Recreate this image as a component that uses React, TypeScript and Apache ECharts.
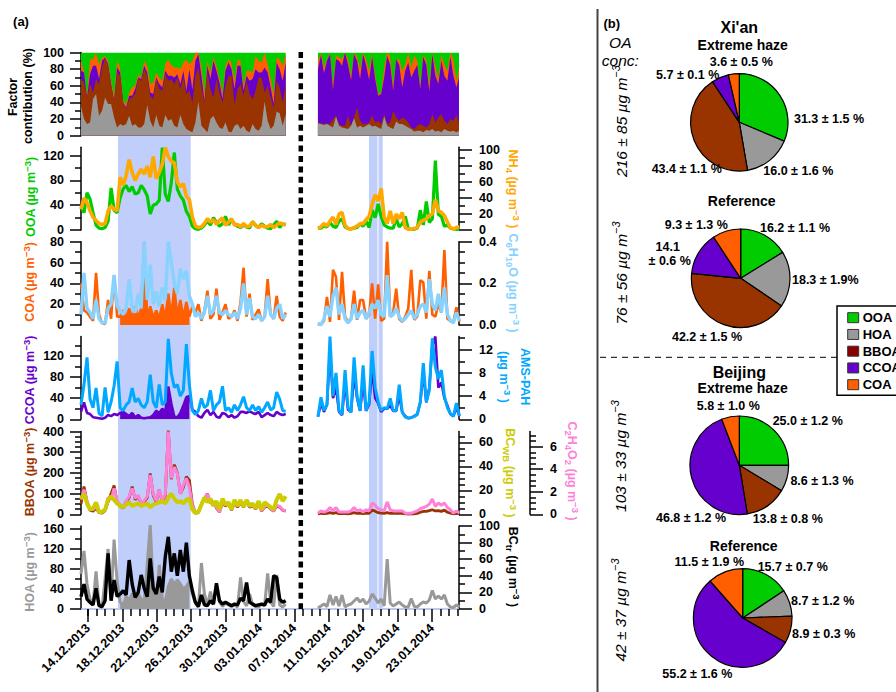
import React, { useEffect, useRef } from 'react';
import * as echarts from 'echarts';

// time axis: days counted from 14.12.2013, one reading every 0.35 day
const DAY_MIN = -0.81;
const DAY_MAX = 43.14;
const DAY_STEP = 0.35;
const RIGHT_START = 26.74;
const GAP_DAY = 24.8;
const dateTicks = [0, 4, 8, 12, 16, 20, 24, 28, 32, 36, 40];
const dateLabels = ['14.12.2013', '18.12.2013', '22.12.2013', '26.12.2013', '30.12.2013', '03.01.2014', '07.01.2014', '11.01.2014', '15.01.2014', '19.01.2014', '23.01.2014'];
const dayTicks = [0, 1, 2, 3, 5, 6, 7, 9, 10, 11, 13, 14, 15, 17, 18, 19, 21, 22, 23, 25, 26, 27, 29, 30, 31, 33, 34, 35, 37, 38, 39, 41, 42, 43];
const hazeWindows = [[3.49, 11.94], [32.67, 33.66], [33.78, 34.27]];

// factor contribution, upper edge of each layer (%)
const hoaTopL = [
  35, 20, 14, 16, 44, 50, 24, 30, 46, 38,
  38, 22, 10, 14, 12, 14, 24, 12, 14, 10,
  10, 14, 37, 18, 10, 25, 12, 10, 25, 18,
  20, 12, 10, 25, 14, 8, 6, 4, 16, 41,
  12, 8, 4, 20, 24, 16, 10, 8, 16, 5,
  4, 12, 14, 8, 12, 6, 4, 14, 8, 6,
  12, 41, 18, 8, 12, 29, 27, 12, 26];
const bboaTopL = [
  68, 64, 46, 62, 52, 68, 62, 82, 93, 84,
  60, 42, 76, 72, 40, 32, 44, 46, 50, 68,
  66, 80, 72, 48, 44, 68, 56, 54, 74, 66,
  68, 62, 70, 56, 70, 50, 54, 40, 72, 82,
  58, 40, 76, 56, 46, 68, 52, 40, 60, 72,
  72, 38, 56, 62, 48, 66, 50, 44, 54, 70,
  70, 52, 60, 46, 34, 66, 58, 40, 62];
const ccoaTopL = [
  78, 76, 46, 74, 84, 84, 68, 90, 94, 86,
  62, 42, 82, 76, 40, 34, 48, 48, 56, 70,
  68, 84, 76, 52, 50, 70, 62, 58, 78, 72,
  72, 70, 74, 62, 78, 54, 80, 55, 90, 98,
  72, 42, 84, 68, 90, 78, 64, 44, 78, 88,
  80, 56, 84, 84, 54, 72, 66, 68, 80, 76,
  76, 82, 76, 58, 38, 88, 80, 66, 88];
const coaTopL = [
  90, 78, 47, 92, 92, 100, 86, 93, 96, 90,
  66, 47, 90, 82, 42, 38, 52, 58, 60, 74,
  70, 90, 84, 62, 64, 76, 70, 66, 86, 92,
  85, 82, 82, 80, 88, 92, 86, 90, 100, 100,
  84, 50, 90, 76, 94, 84, 70, 50, 84, 92,
  88, 66, 92, 90, 60, 78, 78, 76, 96, 90,
  88, 100, 86, 70, 50, 94, 92, 84, 98];
const ooaTopL = [
  100, 100, 100, 100, 100, 100, 100, 100, 100, 100,
  100, 100, 100, 100, 100, 100, 100, 100, 100, 100,
  100, 100, 100, 100, 100, 100, 100, 100, 100, 100,
  100, 100, 100, 100, 100, 100, 100, 100, 100, 100,
  100, 100, 100, 100, 100, 100, 100, 100, 100, 100,
  100, 100, 100, 100, 100, 100, 100, 100, 100, 100,
  100, 100, 100, 100, 100, 100, 100, 100, 100];
const hoaTopR = [
  15, 14, 13, 14, 12, 10, 23, 12, 10, 9,
  8, 12, 21, 10, 12, 10, 12, 14, 11, 12,
  10, 8, 23, 12, 10, 8, 17, 14, 14, 12,
  10, 8, 5, 6, 6, 4, 7, 6, 8, 5,
  6, 4, 8, 6, 5, 6, 4, 6];
const bboaTopR = [
  16, 15, 14, 15, 14, 20, 24, 14, 12, 12,
  24, 12, 22, 34, 18, 14, 14, 16, 25, 16,
  18, 14, 26, 14, 16, 30, 22, 18, 22, 20,
  16, 10, 8, 12, 14, 12, 10, 14, 26, 16,
  22, 26, 18, 14, 20, 18, 25, 14];
const ccoaTopR = [
  80, 97, 75, 90, 98, 55, 92, 90, 84, 100,
  85, 67, 98, 90, 68, 98, 85, 67, 95, 68,
  48, 50, 70, 96, 85, 54, 92, 85, 58, 78,
  88, 70, 78, 85, 56, 95, 85, 53, 98, 72,
  62, 90, 72, 66, 95, 72, 58, 72];
const coaTopR = [
  90, 100, 82, 92, 100, 62, 96, 94, 92, 100,
  92, 72, 100, 95, 80, 100, 92, 78, 98, 74,
  50, 52, 82, 100, 96, 60, 92, 92, 78, 86,
  100, 82, 96, 90, 60, 97, 92, 62, 100, 84,
  68, 97, 86, 78, 100, 92, 66, 85];
const ooaTopR = [
  100, 100, 100, 100, 100, 100, 100, 100, 100, 100,
  100, 100, 100, 100, 100, 100, 100, 100, 100, 100,
  100, 100, 100, 100, 100, 100, 100, 100, 100, 100,
  100, 100, 100, 100, 100, 100, 100, 100, 100, 100,
  100, 100, 100, 100, 100, 100, 100, 100];

// concentrations (ug m-3)
const ooaL = [
  38, 28, 60, 50, 28, 8, 3, 2, 4, 14,
  68, 32, 28, 52, 66, 72, 62, 70, 58, 60,
  72, 65, 55, 26, 40, 42, 48, 133, 58, 46,
  76, 125, 66, 55, 48, 30, 22, 6, 2, 1,
  3, 8, 14, 8, 20, 12, 6, 10, 22, 8,
  16, 10, 6, 4, 8, 5, 3, 14, 7, 4,
  10, 6, 3, 2, 8, 14, 4, 10, 8];
const ooaR = [
  3, 3, 7, 5, 12, 6, 4, 14, 18, 5,
  2, 2, 3, 4, 10, 6, 14, 4, 32, 20,
  42, 22, 8, 5, 3, 3, 18, 5, 10, 22,
  2, 1, 1, 3, 32, 8, 46, 12, 18, 112,
  25, 22, 6, 8, 3, 2, 1, 2];
const nh4L = [
  26, 40, 34, 24, 16, 12, 8, 7, 8, 24,
  30, 26, 24, 66, 56, 68, 88, 72, 62, 70,
  76, 70, 80, 66, 92, 64, 72, 82, 103, 92,
  86, 84, 60, 54, 58, 42, 38, 16, 5, 3,
  4, 8, 14, 10, 13, 7, 12, 15, 6, 10,
  14, 6, 7, 4, 8, 4, 5, 10, 6, 3,
  6, 4, 4, 7, 3, 6, 9, 7, 7];
const nh4R = [
  2, 4, 8, 5, 11, 16, 7, 20, 22, 6,
  2, 1, 3, 5, 8, 8, 13, 17, 32, 44,
  36, 52, 16, 8, 24, 8, 20, 14, 22, 3,
  1, 1, 2, 3, 10, 12, 14, 18, 20, 38,
  24, 22, 18, 10, 3, 1, 3, 4];
const coaL = [
  40, 14, 12, 8, 4, 50, 10, 2, 1, 24,
  6, 48, 8, 8, 14, 7, 16, 6, 18, 7,
  16, 80, 6, 18, 7, 14, 6, 20, 6, 30,
  8, 36, 8, 24, 7, 22, 8, 18, 12, 20,
  4, 14, 33, 6, 10, 35, 5, 12, 20, 6,
  8, 14, 4, 22, 55, 8, 30, 5, 10, 15,
  4, 8, 44, 10, 6, 28, 8, 4, 12];
const coaR = [
  1, 0, 4, 27, 3, 53, 46, 5, 51, 8,
  3, 6, 33, 5, 24, 24, 6, 10, 40, 6,
  39, 4, 6, 80, 8, 12, 35, 6, 3, 8,
  16, 53, 5, 8, 43, 41, 6, 52, 10, 8,
  20, 12, 72, 6, 4, 3, 17, 3];
const c6h10oL = [
  0.05, 0.25, 0.08, 0.06, 0.03, 0.12, 0.03, 0.01, 0.01, 0.08,
  0.10, 0.24, 0.09, 0.07, 0.05, 0.08, 0.22, 0.08, 0.06, 0.15,
  0.08, 0.40, 0.12, 0.29, 0.10, 0.16, 0.09, 0.18, 0.12, 0.40,
  0.30, 0.20, 0.15, 0.27, 0.22, 0.26, 0.14, 0.10, 0.04, 0.06,
  0.03, 0.06, 0.14, 0.05, 0.07, 0.14, 0.06, 0.05, 0.07, 0.05,
  0.04, 0.06, 0.03, 0.08, 0.20, 0.05, 0.13, 0.04, 0.03, 0.05,
  0.02, 0.04, 0.14, 0.05, 0.03, 0.08, 0.10, 0.03, 0.05];
const c6h10oR = [
  0.01, 0.0, 0.03, 0.09, 0.04, 0.14, 0.18, 0.05, 0.10, 0.03,
  0.01, 0.03, 0.10, 0.03, 0.06, 0.07, 0.03, 0.06, 0.10, 0.08,
  0.12, 0.05, 0.04, 0.24, 0.04, 0.05, 0.08, 0.04, 0.02, 0.03,
  0.05, 0.07, 0.03, 0.05, 0.09, 0.10, 0.06, 0.22, 0.10, 0.07,
  0.15, 0.06, 0.18, 0.05, 0.02, 0.01, 0.06, 0.02];
const ccoaL = [
  14, 32, 12, 10, 4, 3, 2, 1, 3, 8,
  6, 10, 8, 12, 14, 10, 6, 12, 4, 8,
  3, 2, 3, 4, 8, 16, 12, 20, 14, 62,
  30, 5, 4, 12, 26, 42, 44, 18, 14, 6,
  3, 12, 18, 8, 14, 5, 3, 12, 10, 4,
  8, 3, 6, 14, 14, 12, 15, 12, 10, 14,
  4, 8, 12, 8, 6, 14, 10, 8, 10];
const ccoaR = [
  6, 30, 14, 28, 130, 40, 60, 14, 8, 70,
  18, 14, 85, 40, 16, 70, 16, 28, 95, 40,
  30, 14, 20, 20, 26, 16, 16, 45, 14, 6,
  2, 3, 6, 10, 32, 90, 32, 60, 140, 157,
  60, 70, 40, 26, 10, 6, 22, 6];
const pahL = [
  2.5, 6, 10.7, 3.5, 2, 5.4, 1, 0.6, 5.5, 1.2,
  3, 5.8, 10, 2, 1.5, 2.5, 3, 5.4, 3, 3.6,
  2.5, 2, 3, 7.7, 3, 2, 6, 2.5, 3, 13.9,
  8, 5.5, 6, 4, 5, 13, 6, 1.5, 0.8, 1.5,
  3.6, 2, 2.5, 5, 1.5, 2.5, 3, 5.7, 1.5, 2,
  1.2, 2.5, 1.5, 2.5, 3.9, 2, 1.5, 2.5, 1.5, 2.2,
  1.2, 2, 3, 1.6, 2, 4.7, 3.5, 1.5, 1.4];
const pahR = [
  0.4, 3.8, 1.5, 2.5, 14.3, 4, 8, 1.5, 0.8, 8.5,
  2, 1.2, 10.7, 4, 1.5, 9.3, 1.5, 3, 11.8, 5.5,
  3, 1.5, 2, 1.8, 3.6, 1.5, 1.5, 6, 1.2, 0.4,
  0.2, 0.3, 0.5, 0.8, 3, 9.7, 3, 5, 14, 9,
  7, 8.5, 4, 2, 1, 0.5, 2.8, 0.6];
const bboaL = [
  50, 134, 60, 20, 15, 30, 8, 6, 18, 60,
  100, 139, 60, 40, 30, 60, 80, 134, 70, 90,
  50, 60, 80, 198, 90, 60, 120, 60, 90, 404,
  170, 240, 200, 100, 130, 182, 165, 50, 6, 8,
  50, 75, 100, 55, 60, 30, 10, 55, 40, 50,
  20, 55, 35, 55, 35, 60, 35, 40, 25, 50,
  15, 35, 40, 25, 15, 40, 35, 20, 15];
const bboaR = [
  1, 5, 3, 5, 8, 5, 8, 3, 3, 3,
  2, 4, 8, 5, 6, 3, 6, 5, 20, 15,
  8, 6, 4, 8, 5, 4, 4, 4, 5, 2,
  1, 1, 2, 4, 10, 14, 14, 18, 22, 16,
  18, 14, 20, 10, 6, 2, 5, 2];
const c2h4o2L = [
  1.3, 2.2, 1.2, 0.5, 0.4, 0.7, 0.2, 0.2, 0.4, 1.5,
  1.3, 2.3, 1.2, 0.8, 0.7, 1.2, 1.6, 2.3, 1.4, 1.7,
  1.0, 1.2, 1.6, 3.5, 1.8, 1.2, 2.2, 1.2, 1.8, 7.35,
  3.2, 4.2, 3.6, 1.8, 2.6, 3.2, 2.4, 0.8, 0.2, 0.2,
  0.9, 1.4, 1.8, 1.0, 1.1, 0.6, 0.2, 1.1, 0.8, 1.0,
  0.4, 1.1, 0.7, 1.1, 0.7, 1.2, 0.7, 0.8, 0.5, 1.0,
  0.3, 0.7, 0.8, 0.5, 0.3, 0.8, 0.7, 0.4, 0.3];
const c2h4o2R = [
  0.1, 0.3, 0.2, 0.3, 0.6, 0.3, 0.6, 0.2, 0.2, 0.2,
  0.2, 0.3, 0.6, 0.3, 0.4, 0.2, 0.4, 0.3, 1.0, 0.8,
  0.5, 0.4, 0.3, 1.1, 0.4, 0.3, 0.3, 0.3, 0.3, 0.1,
  0.1, 0.1, 0.2, 0.3, 0.5, 0.6, 0.7, 0.9, 1.36, 0.7,
  1.0, 0.8, 1.0, 0.6, 0.4, 0.1, 0.3, 0.1];
const bcWbL = [
  13, 17, 9, 4, 5, 10, 2, 2, 4, 12,
  15, 12, 9, 7, 6, 8, 10, 7, 8, 9,
  7, 8, 9, 6, 8, 9, 10, 11, 9, 14,
  17, 13, 10, 11, 9, 12, 13, 4, 1, 2,
  8, 14, 10, 13, 7, 11, 4, 13, 8, 10,
  4, 12, 7, 12, 6, 12, 7, 9, 5, 11,
  4, 10, 8, 6, 4, 12, 17, 11, 15];
const hoaL = [
  70, 116, 50, 20, 10, 75, 8, 3, 60, 120,
  20, 139, 55, 14, 8, 25, 18, 30, 25, 30,
  20, 14, 90, 168, 40, 12, 88, 20, 15, 45,
  60, 50, 58, 50, 40, 45, 55, 30, 12, 4,
  92, 30, 8, 35, 10, 48, 14, 5, 12, 8,
  5, 8, 4, 63, 15, 6, 30, 8, 5, 4,
  10, 6, 71, 14, 5, 68, 8, 4, 10];
const hoaR = [
  2, 6, 10, 5, 28, 8, 25, 6, 28, 4,
  8, 10, 16, 22, 14, 20, 10, 16, 30, 22,
  12, 20, 6, 100, 12, 6, 10, 14, 8, 4,
  4, 21, 5, 4, 10, 14, 12, 18, 37, 20,
  26, 20, 28, 10, 4, 3, 8, 4];
const bcTrL = [
  15, 30, 12, 8, 5, 25, 4, 3, 10, 67,
  10, 35, 15, 18, 22, 17, 59, 30, 14, 20,
  41, 25, 15, 61, 25, 18, 39, 20, 63, 87,
  45, 67, 40, 71, 45, 80, 40, 22, 8, 3,
  17, 5, 4, 10, 6, 31, 10, 6, 8, 6,
  4, 6, 5, 13, 10, 32, 8, 6, 4, 5,
  6, 5, 12, 8, 40, 38, 12, 8, 10];

// pie charts, same slice order in all four
const factorNames = ['OOA', 'HOA', 'BBOA', 'CCOA', 'COA'];
const xianHaze = [31.3, 16.0, 43.4, 5.7, 3.6];
const xianRef = [16.2, 18.3, 42.2, 14.1, 9.3];
const beijingHaze = [25.0, 8.6, 13.8, 46.8, 5.8];
const beijingRef = [15.7, 8.7, 8.9, 55.2, 11.5];
const xianHazeText = ['31.3 ± 1.5 %', '16.0 ± 1.6 %', '43.4 ± 1.1 %', '5.7 ± 0.1 %', '3.6 ± 0.5 %'];
const xianRefText = ['16.2 ± 1.1 %', '18.3 ± 1.9%', '42.2 ± 1.5 %', '14.1', '± 0.6 %', '9.3 ± 1.3 %'];
const beijingHazeText = ['25.0 ± 1.2 %', '8.6 ± 1.3 %', '13.8 ± 0.8 %', '46.8 ± 1.2 %', '5.8 ± 1.0 %'];
const beijingRefText = ['15.7 ± 0.7 %', '8.7 ± 1.2 %', '8.9 ± 0.3 %', '55.2 ± 1.6 %', '11.5 ± 1.9 %'];

const FONT = '"Liberation Sans", Arial, sans-serif';
const GREEN = '#00CC00';
const GRAY = '#999999';
const BROWN = '#993300';
const PURPLE = '#6600CC';
const ORANGE = '#FF5F00';
const sliceColors = [GREEN, GRAY, BROWN, PURPLE, ORANGE];
const legendColors = [GREEN, GRAY, '#8B0000', PURPLE, ORANGE];

const toPoints = (left: number[], right: number[] = []) => [
  ...left.map((v, i) => [DAY_MIN + i * DAY_STEP, v]),
  [GAP_DAY, null],
  ...right.map((v, i) => [RIGHT_START + i * DAY_STEP, v]),
];
// only the readings inside the long haze episode, for the solid band under the traces
const duringHaze = (left: number[]) => toPoints(left).map(([x, y]: any) => [x, x >= hazeWindows[0][0] && x <= hazeWindows[0][1] ? y : null]);

// panels of (a), top to bottom
const panels = [
  { top: 52.5, height: 83.2 },
  { top: 147.3, height: 82.7 },
  { top: 241.7, height: 83.3 },
  { top: 336.5, height: 82.8 },
  { top: 431.5, height: 82.8 },
  { top: 526, height: 83 },
];

const grids: any[] = [{ left: 81, width: 378, top: 136, height: 473 }, ...panels.map((p) => ({ left: 81, width: 378, top: p.top, height: p.height }))];

const hiddenX = (gridIndex: number) => ({ type: 'value', gridIndex, min: DAY_MIN, max: DAY_MAX, show: false });
const xAxes: any[] = [0, 1, 2, 3, 4, 5].map(hiddenX);
xAxes.push({
  type: 'value', gridIndex: 6, min: DAY_MIN, max: DAY_MAX, position: 'bottom',
  axisLine: { show: true, onZero: false, lineStyle: { color: '#A9B9E6', width: 1.5 } },
  axisTick: { show: true, customValues: dateTicks, length: 13, lineStyle: { color: '#000', width: 1.5 } },
  axisLabel: {
    customValues: dateTicks, rotate: 45, margin: 17, fontFamily: FONT, fontWeight: 'bold', fontSize: 12.5, color: '#000',
    formatter: (v: number) => dateLabels[dateTicks.indexOf(v)],
  },
  splitLine: { show: false },
});
xAxes.push({
  type: 'value', gridIndex: 6, min: DAY_MIN, max: DAY_MAX, position: 'bottom',
  axisLine: { show: false, onZero: false },
  axisTick: { show: true, customValues: dayTicks, length: 7, lineStyle: { color: '#000', width: 1.5 } },
  axisLabel: { show: false },
  splitLine: { show: false },
});

const yAxes: any[] = [{ type: 'value', gridIndex: 0, min: 0, max: 1, show: false }];
// a drawn axis and a second one on the same spot for its short ticks
const addAxis = (gridIndex: number, position: string, max: number, majors: number[], minors: number[], offset = 0, digits = 0) => {
  const index = yAxes.length;
  const isLeft = position === 'left';
  yAxes.push({
    type: 'value', gridIndex, position, offset, min: 0, max,
    axisLine: { show: true, onZero: false, lineStyle: { color: '#000', width: 1.5 } },
    axisTick: { show: true, customValues: majors, length: isLeft ? 11 : 13, lineStyle: { color: '#000', width: 1.5 } },
    axisLabel: {
      customValues: majors, margin: isLeft ? 17 : 20, fontFamily: FONT, fontWeight: 'bold', fontSize: 12.5, color: '#000',
      formatter: (v: number) => v.toFixed(digits),
    },
    splitLine: { show: false },
  });
  yAxes.push({
    type: 'value', gridIndex, position, offset, min: 0, max,
    axisLine: { show: false, onZero: false },
    axisTick: { show: true, customValues: minors, length: 6, lineStyle: { color: '#000', width: 1.5 } },
    axisLabel: { show: false },
    splitLine: { show: false },
  });
  return index;
};

const contribAxis = addAxis(1, 'left', 100, [0, 20, 40, 60, 80, 100], [10, 30, 50, 70, 90]);
const ooaAxis = addAxis(2, 'left', 133.4, [0, 40, 80, 120], [20, 60, 100]);
const nh4Axis = addAxis(2, 'right', 103.4, [0, 20, 40, 60, 80, 100], [10, 30, 50, 70, 90]);
const coaAxis = addAxis(3, 'left', 80, [0, 20, 40, 60, 80], [10, 30, 50, 70]);
const c6Axis = addAxis(3, 'right', 0.4, [0, 0.2, 0.4], [0.05, 0.1, 0.15, 0.25, 0.3, 0.35], 0, 1);
const ccoaAxis = addAxis(4, 'left', 157, [0, 40, 80, 120], [20, 60, 100, 140]);
const pahAxis = addAxis(4, 'right', 14.3, [0, 4, 8, 12], [2, 6, 10, 14]);
const bboaAxis = addAxis(5, 'left', 400, [0, 100, 200, 300, 400], [25, 50, 75, 125, 150, 175, 225, 250, 275, 325, 350, 375]);
const bcWbAxis = addAxis(5, 'right', 69, [0, 20, 40, 60], [5, 10, 15, 25, 30, 35, 45, 50, 55, 65]);
const c2Axis = addAxis(5, 'right', 7.35, [0, 2, 4, 6], [0.5, 1, 1.5, 2.5, 3, 3.5, 4.5, 5, 5.5, 6.5, 7], 71);
const hoaAxis = addAxis(6, 'left', 166, [0, 40, 80, 120, 160], [20, 60, 100, 140]);
const bcTrAxis = addAxis(6, 'right', 100, [0, 20, 40, 60, 80, 100], [10, 30, 50, 70, 90]);

const lineSeries = (name: string, grid: number, yAxisIndex: number, color: string, data: any[], width = 2.8) => ({
  type: 'line', name, xAxisIndex: grid, yAxisIndex, data, z: 3,
  showSymbol: false, symbol: 'none', silent: true,
  lineStyle: { color, width, join: 'bevel' },
});
const fillSeries = (name: string, grid: number, yAxisIndex: number, color: string, data: any[]) => ({
  type: 'line', name, xAxisIndex: grid, yAxisIndex, data, z: 3,
  showSymbol: false, symbol: 'none', silent: true,
  lineStyle: { width: 0 }, areaStyle: { color, opacity: 1 },
});
const pieSeries = (name: string, values: number[], cx: number, cy: number, r: number) => ({
  type: 'pie', name, center: [cx, cy], radius: r, startAngle: 90, silent: true,
  label: { show: false }, labelLine: { show: false },
  itemStyle: { borderColor: '#000', borderWidth: 1.2 },
  data: values.map((value, i) => ({ value, name: factorNames[i], itemStyle: { color: sliceColors[i] } })),
});

const series: any[] = [
  {
    type: 'line', name: 'haze', xAxisIndex: 0, yAxisIndex: 0, data: [], z: 0, silent: true,
    markArea: { silent: true, itemStyle: { color: '#BFCEFB' }, data: hazeWindows.map(([a, b]) => [{ xAxis: a }, { xAxis: b }]) },
  },
  // layers are painted back to front, each from the axis up to its upper edge
  fillSeries('OOA', 1, contribAxis, GREEN, toPoints(ooaTopL, ooaTopR)),
  fillSeries('COA', 1, contribAxis, ORANGE, toPoints(coaTopL, coaTopR)),
  fillSeries('CCOA', 1, contribAxis, PURPLE, toPoints(ccoaTopL, ccoaTopR)),
  fillSeries('BBOA', 1, contribAxis, BROWN, toPoints(bboaTopL, bboaTopR)),
  fillSeries('HOA', 1, contribAxis, GRAY, toPoints(hoaTopL, hoaTopR)),
  lineSeries('OOA conc', 2, ooaAxis, GREEN, toPoints(ooaL, ooaR), 3.2),
  lineSeries('NH4', 2, nh4Axis, '#FFA800', toPoints(nh4L, nh4R), 3.6),
  fillSeries('COA haze', 3, coaAxis, ORANGE, duringHaze(coaL)),
  lineSeries('COA conc', 3, coaAxis, ORANGE, toPoints(coaL, coaR), 2.6),
  lineSeries('C6H10O', 3, c6Axis, '#88D2FF', toPoints(c6h10oL, c6h10oR), 3.4),
  fillSeries('CCOA haze', 4, ccoaAxis, PURPLE, duringHaze(ccoaL)),
  lineSeries('CCOA conc', 4, ccoaAxis, PURPLE, toPoints(ccoaL, ccoaR), 2.6),
  lineSeries('AMS-PAH', 4, pahAxis, '#00A8FF', toPoints(pahL, pahR), 3),
  lineSeries('BBOA conc', 5, bboaAxis, BROWN, toPoints(bboaL, bboaR)),
  lineSeries('C2H4O2', 5, c2Axis, '#FF80D8', toPoints(c2h4o2L, c2h4o2R), 3),
  lineSeries('BCwb', 5, bcWbAxis, '#CCCC00', toPoints(bcWbL), 4),
  fillSeries('HOA haze', 6, hoaAxis, GRAY, duringHaze(hoaL)),
  lineSeries('HOA conc', 6, hoaAxis, GRAY, toPoints(hoaL, hoaR), 3),
  lineSeries('BCtr', 6, bcTrAxis, '#000', toPoints(bcTrL), 3.4),
  pieSeries("Xi'an Extreme haze", xianHaze, 739.3, 122.3, 48.7),
  pieSeries("Xi'an Reference", xianRef, 740.7, 278.3, 49.3),
  pieSeries('Beijing Extreme haze', beijingHaze, 739.3, 465.3, 49.3),
  pieSeries('Beijing Reference', beijingRef, 742.7, 618, 49.3),
];

const text = (x: number, y: number, s: string, fill = '#000', fontSize = 12.5, extra: any = {}) => ({
  type: 'text', x, y, z: 20,
  style: { text: s, fill, fontFamily: FONT, fontWeight: 'bold', fontSize, align: 'center', verticalAlign: 'middle', ...extra },
});

// rotated axis title with sub- and superscript runs
const unitTitle = (x: number, y: number, parts: string, fill: string, clockwise = false, fontSize = 12.5) => ({
  type: 'text', x, y, z: 20, rotation: (clockwise ? -1 : 1) * Math.PI / 2,
  style: {
    text: parts, align: 'center', verticalAlign: 'middle',
    rich: {
      t: { fill, fontFamily: FONT, fontWeight: 'bold', fontSize, lineHeight: 17 },
      s: { fill, fontFamily: FONT, fontWeight: 'bold', fontSize: fontSize - 3, lineHeight: 17, verticalAlign: 'top' },
      b: { fill, fontFamily: FONT, fontWeight: 'bold', fontSize: fontSize - 3, lineHeight: 17, verticalAlign: 'bottom' },
    },
  },
});
const concTitle = (x: number, y: number, value: string) => ({
  type: 'text', x, y, z: 20, rotation: Math.PI / 2,
  style: {
    text: `{t|${value} µg m}{s|−3}`, align: 'center', verticalAlign: 'middle',
    rich: {
      t: { fill: '#000', fontFamily: FONT, fontStyle: 'italic', fontSize: 15.5, lineHeight: 22 },
      s: { fill: '#000', fontFamily: FONT, fontStyle: 'italic', fontSize: 11, lineHeight: 22, verticalAlign: 'top' },
    },
  },
});

const pieText = (labels: string[], spots: number[][]) => labels.map((s, i) => text(spots[i][0], spots[i][1], s, '#000', 12.5));

const legendBoxes = factorNames.map((name, i) => {
  const y = 317.7 + i * 16.75;
  return [
    { type: 'rect', z: 21, shape: { x: 847.7, y: y - 5, width: 11, height: 10 }, style: { fill: legendColors[i], stroke: '#333', lineWidth: 1 } },
    text(862.7, y, name, '#000', 13, { align: 'left' }),
  ];
}).flat();

const graphics: any[] = [
  { type: 'line', z: 10, shape: { x1: 300.8, y1: 52, x2: 300.8, y2: 609 }, style: { stroke: '#000', lineWidth: 4.5, lineDash: [6, 4.4] } },
  { type: 'line', z: 10, shape: { x1: 597.5, y1: 9, x2: 597.5, y2: 692 }, style: { stroke: '#444', lineWidth: 2 } },
  { type: 'line', z: 10, shape: { x1: 600, y1: 357.3, x2: 837, y2: 357.3 }, style: { stroke: '#000', lineWidth: 1, lineDash: [6, 5] } },
  text(21, 21, '(a)', '#000', 13),
  text(611.7, 23.3, '(b)', '#000', 13),
  text(620.3, 42, 'OA', '#000', 15.5, { fontWeight: 'normal', fontStyle: 'italic' }),
  text(620.3, 60.7, 'conc:', '#000', 15.5, { fontWeight: 'normal', fontStyle: 'italic' }),
  text(739.3, 27.3, "Xi'an", '#000', 16),
  text(742.7, 45, 'Extreme haze', '#000', 14),
  text(741.7, 201, 'Reference', '#000', 14),
  text(739.3, 372, 'Beijing', '#000', 16),
  text(742.7, 388, 'Extreme haze', '#000', 14),
  text(743.7, 546, 'Reference', '#000', 14),
  concTitle(621, 121, '216 ± 85'),
  concTitle(621, 273, '76 ± 56'),
  concTitle(620, 456, '103 ± 33'),
  concTitle(620, 610, '42 ± 37'),
  unitTitle(13, 97, '{t|Factor}', '#000'),
  unitTitle(28, 96, '{t|contribution (%)}', '#000'),
  unitTitle(31, 197, '{t|OOA (µg m}{s|−3}{t|)}', GREEN),
  unitTitle(30, 282, '{t|COA (µg m}{s|−3}{t|)}', ORANGE),
  unitTitle(30, 380, '{t|CCOA (µg m}{s|−3}{t|)}', PURPLE),
  unitTitle(30, 472, '{t|BBOA (µg m}{s|−3}{t|)}', BROWN),
  unitTitle(30, 572, '{t|HOA (µg m}{s|−3}{t|)}', GRAY),
  unitTitle(513, 189, '{t|NH}{b|4}{t| (µg m}{s|−3}{t| )}', '#FFA800', true),
  unitTitle(513, 283, '{t|C}{b|6}{t|H}{b|10}{t|O (µg m}{s|−3}{t| )}', '#88D2FF', true),
  unitTitle(525, 376.7, '{t|AMS-PAH}', '#00A8FF', true),
  unitTitle(504, 377, '{t|(µg m}{s|−3}{t| )}', '#00A8FF', true),
  unitTitle(510, 473, '{t|BC}{b|WB}{t| (µg m}{s|−3}{t| )}', '#CCCC00', true),
  unitTitle(571.7, 471, '{t|C}{b|2}{t|H}{b|4}{t|O}{b|2}{t| (µg m}{s|−3}{t| )}', '#FF80D8', true),
  unitTitle(513, 567, '{t|BC}{b|tr}{t| (µg m}{s|−3}{t| )}', '#000', true),
  ...pieText(xianHazeText, [[829, 118.7], [798.3, 171], [686.7, 169], [687.7, 75], [741.3, 62]]),
  ...pieText(xianRefText, [[795, 228], [825.3, 280], [707, 337], [667.7, 247], [669.7, 261.3], [696.3, 224.7]]),
  ...pieText(beijingHazeText, [[807.7, 421], [822, 481], [787.7, 519], [691, 518], [728.3, 406.3]]),
  ...pieText(beijingRefText, [[792.7, 567], [822.7, 600.7], [823.7, 634], [697.3, 673.7], [709.3, 562]]),
  { type: 'rect', z: 20, shape: { x: 837, y: 306, width: 70, height: 89.3 }, style: { fill: '#fff', stroke: '#000', lineWidth: 1.5 } },
  ...legendBoxes,
];

export default function App() {
  const ref = useRef<HTMLDivElement>(null);
  useEffect(() => {
    if (!ref.current) return;
    const chart = echarts.init(ref.current, undefined, { renderer: 'svg' });
    chart.setOption({
      animation: false,
      backgroundColor: '#fff',
      grid: grids,
      xAxis: xAxes,
      yAxis: yAxes,
      series,
      graphic: graphics,
    });
    return () => { chart.dispose(); };
  }, []);
  return <div ref={ref} style={{ position: 'fixed', left: 0, top: 0, width: 896, height: 692 }} />;
}
